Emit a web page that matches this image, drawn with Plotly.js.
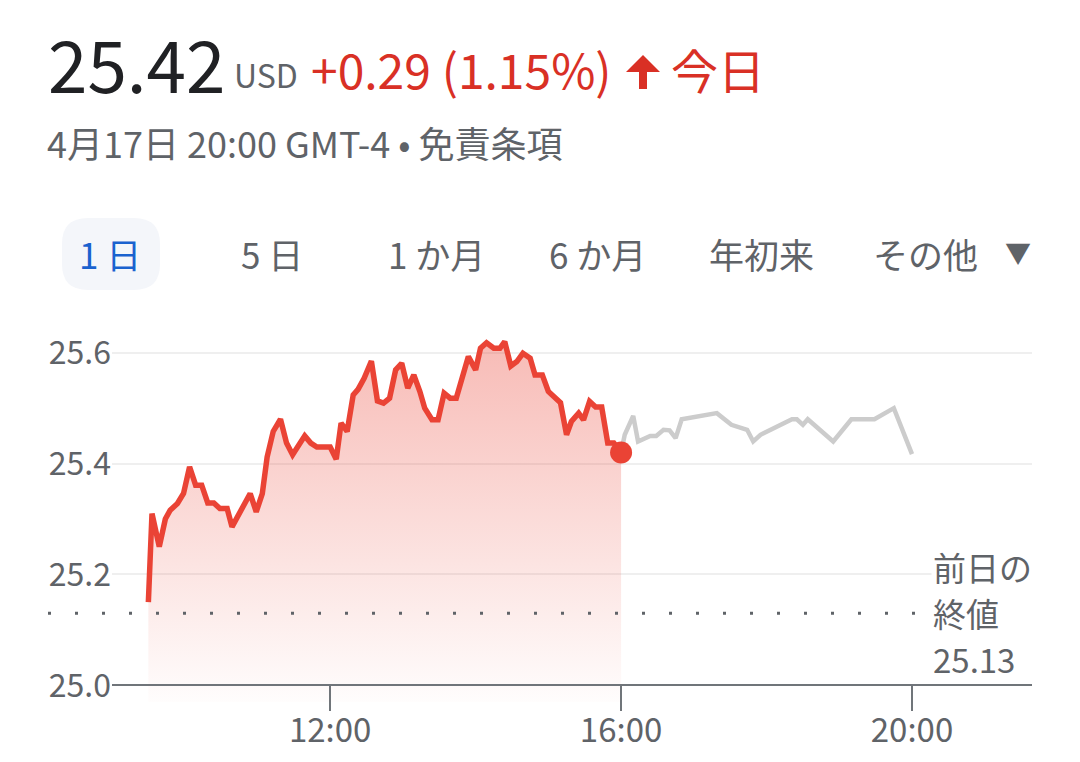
<!DOCTYPE html>
<html><head><meta charset="utf-8">
<script src="https://cdn.plot.ly/plotly-3.0.1.min.js"></script>
<style>html,body{margin:0;padding:0;background:#fff}#chart{width:1080px;height:762px}</style>
</head><body><div id="chart"></div>
<script>
const DAY = '2024-04-17';
const regularTimes = ['09:30','09:33','09:39','09:44','09:48','09:54','09:59','10:04','10:09','10:14','10:19','10:24','10:29','10:35','10:39','10:44','10:50','10:54','10:59','11:04','11:08','11:13','11:19','11:24','11:29','11:34','11:39','11:44','11:49','11:54','12:00','12:05','12:09','12:14','12:19','12:23','12:28','12:34','12:39','12:44','12:49','12:54','12:59','13:04','13:09','13:14','13:18','13:24','13:29','13:34','13:39','13:44','13:49','13:54','14:00','14:04','14:09','14:15','14:20','14:24','14:29','14:34','14:39','14:45','14:49','14:55','15:00','15:04','15:10','15:15','15:19','15:25','15:29','15:34','15:39','15:44','15:49','15:54','16:00'];
const regularPrices = [25.15,25.31,25.25,25.30,25.316,25.328,25.346,25.394,25.361,25.361,25.329,25.329,25.319,25.319,25.286,25.307,25.331,25.346,25.313,25.346,25.412,25.458,25.48,25.437,25.416,25.434,25.45,25.437,25.43,25.43,25.43,25.408,25.473,25.458,25.524,25.534,25.554,25.585,25.513,25.509,25.518,25.569,25.581,25.536,25.56,25.53,25.50,25.479,25.479,25.527,25.518,25.518,25.56,25.593,25.569,25.608,25.618,25.608,25.608,25.62,25.576,25.584,25.599,25.59,25.56,25.56,25.53,25.521,25.51,25.452,25.476,25.491,25.479,25.512,25.502,25.502,25.437,25.437,25.42];
const afterTimes = ['16:00','16:03','16:10','16:14','16:24','16:29','16:35','16:40','16:45','16:50','17:19','17:31','17:44','17:49','17:55','18:21','18:25','18:30','18:34','18:55','19:10','19:29','19:45','20:00'];
const afterPrices = [25.42,25.452,25.486,25.44,25.45,25.45,25.461,25.46,25.446,25.48,25.491,25.47,25.461,25.44,25.452,25.48,25.48,25.47,25.48,25.44,25.48,25.48,25.50,25.417];
const xTickTimes = ['12:00','16:00','20:00'];
const yTickValues = [25.0,25.2,25.4,25.6];
const previousClose = 25.13;
const xRangeTimes = ['09:00','21:39'];
const yRange = [24.97,25.65];

const priceText = '25.42';
const currencyText = 'USD';
const changeText = '+0.29 (1.15%)';
const periodText = '今日';
const dateLine = '4月17日 20:00 GMT-4 • 免責条項';
const tabLabels = ['1 日','5 日','1 か月','6 か月','年初来','その他'];
const prevCloseLines = ['前日の','終値','25.13'];

const FONT = '"Noto Sans CJK JP", "Noto Sans", sans-serif';
const RED = '#ea4335';
const TXTRED = '#d93025';
const GREY = '#5f6368';
const toX = t => DAY + ' ' + t;

// layout geometry (pixels)
const L = 112, R = 48, T = 325, B = 60, W = 1080, H = 762;
const PX = x => (x - L) / (W - L - R);
const PY = y => (H - B - y) / (H - T - B);

const lastIdx = regularTimes.length - 1;

const traces = [
  {x: afterTimes.map(toX), y: afterPrices, type: 'scatter', mode: 'lines',
   line: {color: '#cccccc', width: 4.5}, hoverinfo: 'skip'},
  {x: regularTimes.map(toX), y: regularPrices, type: 'scatter', mode: 'lines',
   line: {color: RED, width: 5.5}, fill: 'tozeroy',
   fillgradient: {type: 'vertical', start: yRange[0], stop: 25.62,
     colorscale: [[0, 'rgba(234,67,53,0.01)'], [1, 'rgba(234,67,53,0.36)']]},
   hoverinfo: 'skip'},
  {x: [toX(regularTimes[lastIdx])], y: [regularPrices[lastIdx]], type: 'scatter', mode: 'markers',
   marker: {color: RED, size: 22}, hoverinfo: 'skip'}
];

function roundRect(w, h, r) {
  const x0 = -w/2, x1 = w/2, y0 = -h/2, y1 = h/2;
  return `M ${x0+r} ${y0} L ${x1-r} ${y0} Q ${x1} ${y0} ${x1} ${y0+r} L ${x1} ${y1-r} Q ${x1} ${y1} ${x1-r} ${y1} L ${x0+r} ${y1} Q ${x0} ${y1} ${x0} ${y1-r} L ${x0} ${y0+r} Q ${x0} ${y0} ${x0+r} ${y0} Z`;
}

const shapes = [
  {type: 'line', xref: 'paper', yref: 'y', x0: PX(48), x1: PX(916), y0: previousClose, y1: previousClose,
   line: {color: GREY, width: 3, dash: '3px,24px'}},
  {type: 'path', xref: 'paper', yref: 'paper', xsizemode: 'pixel', ysizemode: 'pixel',
   xanchor: PX(111), yanchor: PY(254), path: roundRect(98, 72, 26),
   fillcolor: '#f4f6fa', line: {width: 0}},
  {type: 'path', xref: 'paper', yref: 'paper', xsizemode: 'pixel', ysizemode: 'pixel',
   xanchor: PX(643), yanchor: PY(72),
   path: 'M -17 0 L 0 17 L 17 0 L 4 0 L 4 -17 L -4 -17 L -4 0 Z',
   fillcolor: TXTRED, line: {width: 0}}
];

const tabCenters = [110, 272, 436, 597, 761, 925];
const ann = [];
const addText = (text, x, y, size, color, anchor, extra) => ann.push(Object.assign({
  text, xref: 'paper', yref: 'paper', x: PX(x), y: PY(y), xanchor: anchor || 'left', yanchor: 'middle',
  showarrow: false, font: {family: FONT, size, color}
}, extra || {}));

addText(priceText, 46, 62, 71, '#202124');
addText(currencyText, 232, 74, 32, GREY);
addText(changeText, 309, 68, 48, TXTRED);
addText(periodText, 669, 68, 47, TXTRED);
addText(dateLine, 45, 142, 36, GREY);
tabLabels.forEach((t, i) => addText(t, tabCenters[i], 253, 35, i === 0 ? '#1a62cf' : GREY, 'center'));
addText('▼', 1018, 251, 26, GREY, 'center');
prevCloseLines.forEach((t, i) => addText(t, 931, 567 + i * 46, 33, GREY, 'left', i === 0 ? {bgcolor: '#ffffff'} : {}));

const layout = {
  width: W, height: H,
  margin: {l: L, r: R, t: T, b: B, pad: 0},
  paper_bgcolor: '#ffffff', plot_bgcolor: '#ffffff',
  showlegend: false, hovermode: false,
  font: {family: FONT, color: GREY},
  xaxis: {type: 'date', range: xRangeTimes.map(toX), anchor: 'free',
    position: (25.0 - yRange[0]) / (yRange[1] - yRange[0]),
    tickvals: xTickTimes.map(toX), tickformat: '%H:%M',
    showgrid: false, zeroline: false, showline: true, linecolor: '#70757a', linewidth: 2,
    ticks: 'outside', ticklen: 25, tickwidth: 2, tickcolor: '#70757a', ticklabelstandoff: -9,
    tickfont: {family: FONT, size: 33, color: GREY}, fixedrange: true},
  yaxis: {range: yRange, tickvals: yTickValues, tickformat: '.1f',
    showgrid: true, gridcolor: '#efefef', gridwidth: 2, zeroline: false, showline: false,
    ticks: '', ticklabelstandoff: 0,
    tickfont: {family: FONT, size: 32, color: GREY}, fixedrange: true},
  shapes, annotations: ann
};

Plotly.newPlot('chart', traces, layout, {displayModeBar: false, staticPlot: true});
</script></body></html>
